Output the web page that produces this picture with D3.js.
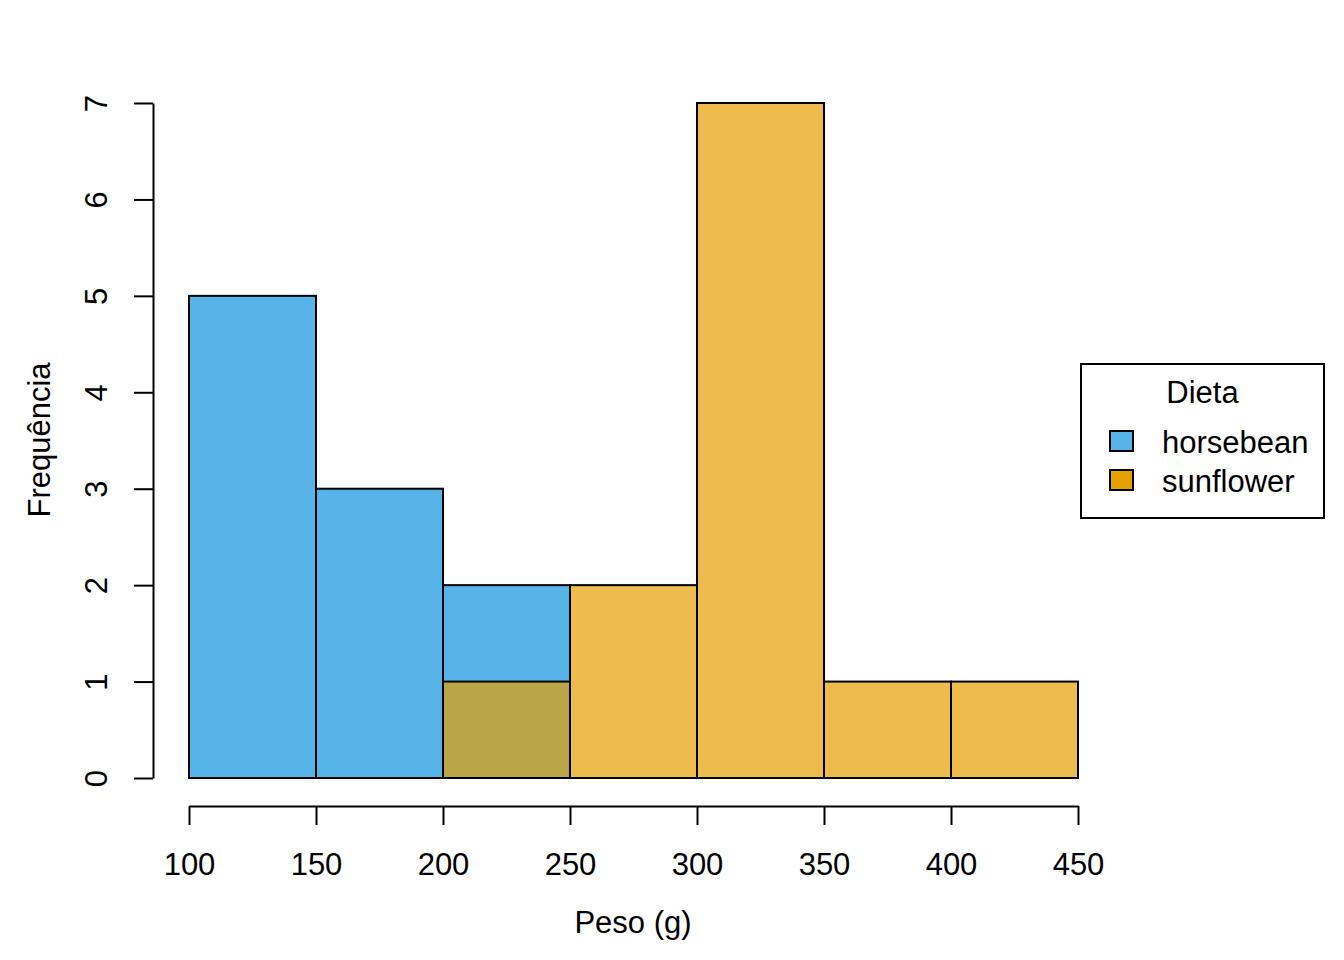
<!DOCTYPE html>
<html><head><meta charset="utf-8">
<script src="https://cdn.jsdelivr.net/npm/d3@7"></script>
<style>body{margin:0;background:#fff}svg{display:block}text{font-family:"Liberation Sans",Arial,sans-serif;fill:#000}</style>
</head><body>
<script>
const binEdges = [100,150,200,250,300,350,400,450];
const horsebeanBins = [[100,150],[150,200],[200,250]];
const horsebeanCounts = [5,3,2];
const sunflowerBins = [[200,250],[250,300],[300,350],[350,400],[400,450]];
const sunflowerCounts = [1,2,7,1,1];
const yTicks = [0,1,2,3,4,5,6,7];
const seriesNames = ["horsebean","sunflower"];
const legendColors = ["#56B4E9","#E69F00"];
const barColors = ["#56B4E9","rgba(230,159,0,0.7)"];

const W=1344,H=960,fs=31;
const svg=d3.select("body").append("svg").attr("width",W).attr("height",H);
const x=d3.scaleLinear().domain([100,450]).range([189,1078]);
const y=d3.scaleLinear().domain([0,7]).range([778,103]);

function bars(bins,counts,color){
  svg.append("g").selectAll("rect").data(bins.map((b,i)=>({b,c:counts[i]}))).join("rect")
    .attr("x",d=>x(d.b[0])).attr("width",d=>x(d.b[1])-x(d.b[0]))
    .attr("y",d=>y(d.c)).attr("height",d=>y(0)-y(d.c))
    .attr("fill",color).attr("stroke","#000").attr("stroke-width",2);
}
bars(horsebeanBins,horsebeanCounts,barColors[0]);
bars(sunflowerBins,sunflowerCounts,barColors[1]);

// x axis
const xa=svg.append("g").attr("transform","translate(0,806)")
  .call(d3.axisBottom(x).tickValues(binEdges).tickSize(19).tickSizeOuter(0).tickPadding(0).tickFormat(d3.format("d")));
xa.select(".domain").attr("stroke","#000").attr("stroke-width",2);
xa.selectAll(".tick line").attr("stroke","#000").attr("stroke-width",2);
xa.selectAll(".tick text").attr("y",69).attr("dy",null).attr("font-size",fs).attr("font-family",'"Liberation Sans",Arial,sans-serif');

// y axis
const ya=svg.append("g").attr("transform","translate(153,0)")
  .call(d3.axisLeft(y).tickValues(yTicks).tickSize(19).tickSizeOuter(0).tickFormat(d3.format("d")));
ya.select(".domain").attr("stroke","#000").attr("stroke-width",2);
ya.selectAll(".tick line").attr("stroke","#000").attr("stroke-width",2);
ya.selectAll(".tick text").attr("x",null).attr("dy",null).attr("text-anchor","middle")
  .attr("transform","translate(-46,0) rotate(-90)").attr("font-size",fs).attr("font-family",'"Liberation Sans",Arial,sans-serif');

// titles
svg.append("text").attr("x",633).attr("y",933).attr("text-anchor","middle").attr("font-size",fs).text("Peso (g)");
svg.append("text").attr("transform","translate(50,440) rotate(-90)").attr("text-anchor","middle").attr("font-size",fs).text("Frequência");

// legend
const lg=svg.append("g");
lg.append("rect").attr("x",1081).attr("y",364).attr("width",243).attr("height",154).attr("fill","#fff").attr("stroke","#000").attr("stroke-width",2);
lg.append("text").attr("x",1202.5).attr("y",403).attr("text-anchor","middle").attr("font-size",fs).text("Dieta");
const ly=[441,480];
seriesNames.forEach((n,i)=>{
  lg.append("rect").attr("x",1110).attr("y",ly[i]-10).attr("width",23).attr("height",20).attr("fill",legendColors[i]).attr("stroke","#000").attr("stroke-width",2);
  lg.append("text").attr("x",1162).attr("y",ly[i]+12).attr("font-size",fs).text(n);
});
</script>
</body></html>
